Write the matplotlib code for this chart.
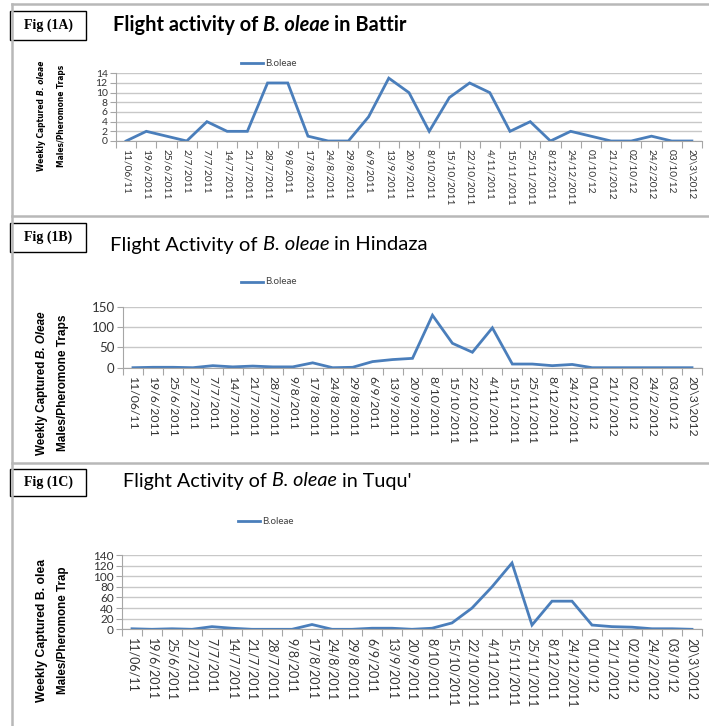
import matplotlib
matplotlib.use("Agg")
import matplotlib.pyplot as plt
from matplotlib.lines import Line2D
from matplotlib.patches import Rectangle
from matplotlib import font_manager as fm

W, H = 709, 726

dates = ["11/06/11", "19/6/2011", "25/6/2011", "2/7/2011", "7/7/2011", "14/7/2011",
         "21/7/2011", "28/7/2011", "9/8/2011", "17/8/2011", "24/8/2011", "29/8/2011",
         "6/9/2011", "13/9/2011", "20/9/2011", "8/10/2011", "15/10/2011", "22/10/2011",
         "4/11/2011", "15/11/2011", "25/11/2011", "8/12/2011", "24/12/2011", "01/10/12",
         "21/1/2012", "02/10/12", "24/2/2012", "03/10/12", "20\\3\\2012"]

battir = [0, 2, 1, 0, 4, 2, 2, 12, 12, 1, 0, 0, 5, 13, 10, 2, 9, 12, 10, 2, 4, 0, 2, 1, 0, 0, 1, 0, 0]
hindaza = [0, 1, 1, 0, 5, 2, 4, 2, 2, 12, 0, 1, 15, 20, 23, 129, 60, 38, 98, 9, 9, 5, 8, 0, 0, 0, 0, 0, 0]
tuqu = [1, 0, 1, 0, 5, 2, 0, 0, 0, 9, 0, 0, 2, 2, 0, 2, 12, 40, 80, 125, 8, 53, 53, 8, 5, 4, 1, 1, 0]

series_name = "B.oleae"
LINE_COLOR = "#4A7EBB"

fig = plt.figure(figsize=(W / 100, H / 100), dpi=100)
renderer = fig.canvas.get_renderer()


def fx(x):
    return x / W


def fy(y):
    return 1 - y / H


def measure(s, size, props):
    t = fig.text(0, 0, s, fontsize=size, **props)
    w = t.get_window_extent(renderer).width
    t.remove()
    return w


def draw_pieces(pieces, x, y, size, target_len=None, rotation=0, anchor="left", color="black"):
    """pieces: list of (string, props). x, y in pixels from top-left."""
    def total(sz):
        tot = 0
        widths = []
        for s, p in pieces:
            w = measure(s, sz, p)
            widths.append(w)
            tot += w
        gap = measure("a a", sz, pieces[0][1]) - measure("aa", sz, pieces[0][1])
        tot += gap * (len(pieces) - 1)
        return tot, widths, gap

    tot, widths, gap = total(size)
    if target_len:
        size = size * target_len / tot
        tot, widths, gap = total(size)
    if rotation == 0:
        x0 = x - tot / 2 if anchor == "center" else x
        cur = x0
        for (s, p), w in zip(pieces, widths):
            fig.text(fx(cur), fy(y), s, fontsize=size, ha="left", va="center", color=color, **p)
            cur += w + gap
    else:
        ycur = y + tot / 2
        for (s, p), w in zip(pieces, widths):
            fig.text(fx(x), fy(ycur), s, fontsize=size, ha="center", va="bottom",
                     rotation=90, color=color, **p)
            ycur -= w + gap
    return size


# a condensed bold face for panel A's y label, if one is installed
ylA = dict(family=["Liberation Sans", "DejaVu Sans"])
for fam, st in [("Liberation Sans Narrow", "normal"), ("DejaVu Sans", "condensed")]:
    try:
        path = fm.findfont(fm.FontProperties(family=fam, stretch=st, weight="bold"),
                           fallback_to_default=False)
        if "Narrow" in path or "Condensed" in path:
            ylA = dict(family=fam, fontstretch=st)
            break
    except Exception:
        pass

# ---- panel borders ----
border_c = "#B8B8B8"
for (x1, y1, x2, y2) in [(12, 4, 709, 4), (12, 4, 12, 726), (12, 216, 709, 216), (12, 463, 709, 463)]:
    fig.add_artist(Line2D([fx(x1), fx(x2)], [fy(y1), fy(y2)], color=border_c, lw=1.8,
                          transform=fig.transFigure))

TITLE_FONT = "Lato"
TICK_FONT = ["Lato", "DejaVu Sans"]
YL_FONT = ["Liberation Sans", "DejaVu Sans"]

panels = [
    dict(label="Fig (1A)", box=(10, 11, 86, 40),
         title=[("Flight activity of", dict(family=TITLE_FONT, weight="bold")),
                ("B. oleae", dict(family=TITLE_FONT, weight="bold", style="italic")),
                ("in Battir", dict(family=TITLE_FONT, weight="bold"))],
         title_xy=(113, 25), title_len=295, title_size=14,
         legend_y=63, legend_x=241,
         ax=(116, 73.3, 702, 141), ymax=14, ystep=2, data=battir,
         ytick_size=7.5, xtick_size=7.3,
         yl1=[("Weekly Captured", dict(ylA, weight="bold")),
              ("B. oleae", dict(ylA, weight="bold", style="italic"))],
         yl2=[("Males/Pheromone Traps", dict(ylA, weight="bold"))],
         yl_y=116, yl_len=None, yl2_len=None,
         yl_size=6.0, yl_x=(42, 61)),
    dict(label="Fig (1B)", box=(10, 223, 86, 252),
         title=[("Flight Activity of", dict(family=TITLE_FONT)),
                ("B. oleae", dict(family=TITLE_FONT, style="italic")),
                ("in Hindaza", dict(family=TITLE_FONT))],
         title_xy=(110, 245), title_len=318, title_size=17,
         legend_y=282, legend_x=241,
         ax=(123, 306.7, 702, 367.7), ymax=150, ystep=50, data=hindaza,
         ytick_size=9.5, xtick_size=8.8,
         yl1=[("Weekly Captured", dict(family=YL_FONT, weight="bold")),
              ("B. Oleae", dict(family=YL_FONT, weight="bold", style="italic"))],
         yl2=[("Males/Pheromone Traps", dict(family=YL_FONT, weight="bold"))],
         yl_y=383, yl_len=145, yl2_len=138, yl_size=8, yl_x=(42, 63)),
    dict(label="Fig (1C)", box=(10, 469, 86, 496),
         title=[("Flight Activity of", dict(family=TITLE_FONT)),
                ("B. oleae", dict(family=TITLE_FONT, style="italic")),
                ("in Tuqu'", dict(family=TITLE_FONT))],
         title_xy=(123, 481), title_len=289, title_size=15,
         legend_y=521, legend_x=238,
         ax=(122, 555, 702, 629.3), ymax=140, ystep=20, data=tuqu,
         ytick_size=8.5, xtick_size=9.0,
         yl1=[("Weekly Captured B. olea", dict(family=YL_FONT, weight="bold"))],
         yl2=[("Males/Pheromone Trap", dict(family=YL_FONT, weight="bold"))],
         yl_y=630, yl_len=143, yl2_len=128, yl_size=8, yl_x=(42, 63)),
]

for p in panels:
    bx1, by1, bx2, by2 = p["box"]
    fig.add_artist(Rectangle((fx(bx1), fy(by2)), (bx2 - bx1) / W, (by2 - by1) / H,
                             transform=fig.transFigure, fill=False, edgecolor="black", lw=1.0))
    fig.text(fx((bx1 + bx2) / 2), fy((by1 + by2) / 2), p["label"], ha="center", va="center",
             fontsize=10, family="Liberation Serif", weight="bold")

    draw_pieces(p["title"], p["title_xy"][0], p["title_xy"][1], p["title_size"],
                target_len=p["title_len"], color="black")

    lx, ly = p["legend_x"], p["legend_y"]
    fig.add_artist(Line2D([fx(lx), fx(lx + 22)], [fy(ly), fy(ly)], color=LINE_COLOR, lw=2.0,
                          transform=fig.transFigure))
    fig.text(fx(lx + 24), fy(ly), series_name, ha="left", va="center", fontsize=7,
             family=TICK_FONT, color="#404040")

    x1, yt, x2, yb = p["ax"]
    ax = fig.add_axes([fx(x1), fy(yb), (x2 - x1) / W, (yb - yt) / H])
    xs = list(range(len(dates)))
    ax.plot(xs, p["data"], color=LINE_COLOR, lw=2.0, solid_joinstyle="miter")
    ax.set_xlim(-0.5, len(dates) - 0.5)
    ax.set_ylim(0, p["ymax"])
    ax.set_yticks(list(range(0, p["ymax"] + 1, p["ystep"])))
    ax.yaxis.grid(True, color="#C8C8C8", lw=1.0)
    ax.set_axisbelow(True)
    for s in ["top", "right"]:
        ax.spines[s].set_visible(False)
    ax.spines["left"].set_color("#A6A6A6")
    ax.spines["bottom"].set_color("#A6A6A6")
    ax.tick_params(axis="y", length=4, color="#A6A6A6", labelsize=p["ytick_size"],
                   labelcolor="#333333", pad=2)
    for lab in ax.get_yticklabels():
        lab.set_family(TICK_FONT)
    ax.set_xticks([i - 0.5 for i in range(len(dates) + 1)])
    ax.set_xticklabels([])
    ax.set_xticks(xs, minor=True)
    ax.set_xticklabels(dates, minor=True, rotation=-90, fontsize=p["xtick_size"],
                       family=TICK_FONT, color="#333333")
    ax.tick_params(axis="x", which="major", length=5, color="#A6A6A6")
    ax.tick_params(axis="x", which="minor", length=0, pad=6)
    ax.set_facecolor("none")

    draw_pieces(p["yl1"], p["yl_x"][0], p["yl_y"], p["yl_size"], target_len=p["yl_len"], rotation=90)
    draw_pieces(p["yl2"], p["yl_x"][1], p["yl_y"], p["yl_size"], target_len=p["yl2_len"], rotation=90)

fig.savefig("out.png", dpi=100)
